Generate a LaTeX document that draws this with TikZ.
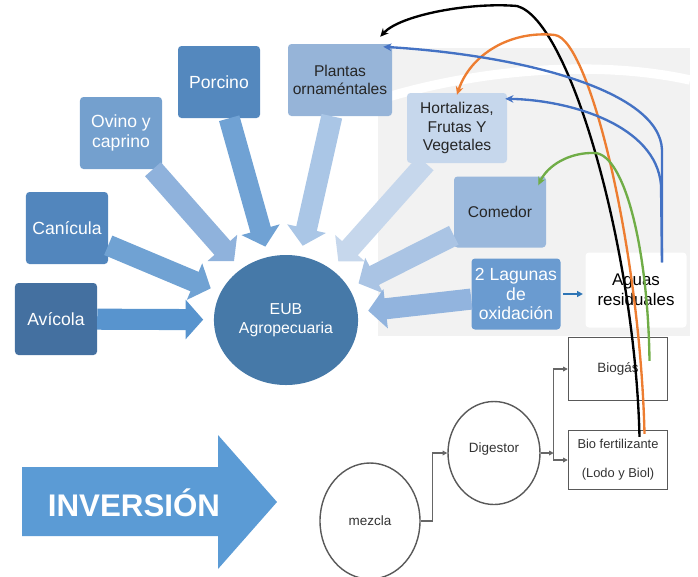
\documentclass[tikz,border=0pt]{standalone}
\usepackage{fontspec}
\setmainfont{Liberation Sans}
\usetikzlibrary{arrows.meta,shapes.geometric}

\definecolor{cporcino}{RGB}{84,136,190}
\definecolor{cplantas}{RGB}{150,180,216}
\definecolor{covino}{RGB}{116,160,206}
\definecolor{ccanicula}{RGB}{82,134,189}
\definecolor{cavicola}{RGB}{68,112,160}
\definecolor{chort}{RGB}{198,215,236}
\definecolor{ccomedor}{RGB}{154,184,220}
\definecolor{claguna}{RGB}{106,155,208}
\definecolor{ceub}{RGB}{70,121,168}
\definecolor{aavicola}{RGB}{88,148,206}
\definecolor{acanicula}{RGB}{112,162,211}
\definecolor{aovino}{RGB}{143,178,220}
\definecolor{aporcino}{RGB}{112,162,212}
\definecolor{aplantas}{RGB}{170,198,230}
\definecolor{ahort}{RGB}{198,215,236}
\definecolor{acomedor}{RGB}{170,196,228}
\definecolor{alaguna}{RGB}{146,180,222}
\definecolor{cinv}{RGB}{91,155,213}
\definecolor{corange}{RGB}{237,125,49}
\definecolor{cgreen}{RGB}{112,173,71}
\definecolor{cblue}{RGB}{68,114,196}
\definecolor{cflecha}{RGB}{46,117,182}

\begin{document}
\begin{tikzpicture}[x=0.03cm, y=-0.03cm,
  box/.style={rectangle, rounded corners=3pt, align=center, inner sep=1pt,
    minimum width=2.46cm, minimum height=2.16cm},
  wtext/.style={text=white, font=\fontsize{15}{17}\selectfont},
  dtext/.style={text=black!85, font=\fontsize{13.3}{15.5}\selectfont},
  fat/.style={line width=18pt, -{Triangle[length=15pt,width=33pt]}, shorten >=9pt},
  flow/.style={draw=black!60, line width=0.9pt, -{Triangle[length=4pt,width=4pt]}},
  back/.style={line width=2pt, -{Stealth[length=7pt,width=6.5pt]}},
  proc/.style={draw=black!65, line width=1.2pt, text=black!80,
    font=\fontsize{11.5}{17}\selectfont, align=center}]

\useasboundingbox (0,0) rectangle (698,576);

% fondo
\fill[black!5] (378,48) rectangle (690,336);
\draw[white, line width=8pt] (378,100) .. controls (480,68) and (600,60) .. (690,80);

% nodos
\node (porcino) at (219,82) [box, fill=cporcino, wtext] {Porcino};
\node (plantas) at (340,80) [box, fill=cplantas, dtext, minimum width=3.12cm] {Plantas\\ornaméntales};
\node (ovino) at (121,133) [box, fill=covino, wtext] {Ovino y\\caprino};
\node (canicula) at (67,228) [box, fill=ccanicula, wtext] {Canícula};
\node (avicola) at (56,319) [box, fill=cavicola, wtext] {Avícola};
\node (hortalizas) at (457,128) [box, fill=chort, dtext, minimum width=3cm, minimum height=2.1cm] {Hortalizas,\\Frutas Y\\Vegetales};
\node (comedor) at (500,212) [box, fill=ccomedor, dtext, minimum width=2.76cm, minimum height=2.13cm] {Comedor};
\node (lagunas) at (516,294) [box, fill=claguna, wtext, minimum width=2.67cm, minimum height=2.13cm] {2 Lagunas\\de\\oxidación};
\node (aguas) at (636,290) [box, fill=white, text=black, font=\fontsize{14.4}{17}\selectfont, minimum width=3.03cm, minimum height=2.25cm] {Aguas\\residuales};
\node (eub) at (286,320) [ellipse, fill=ceub, text=white, align=center, font=\fontsize{13.5}{16}\selectfont, minimum width=4.26cm, minimum height=3.9cm] {EUB\\Agropecuaria};

% flechas gruesas
\draw[fat, aavicola] (avicola) -- (eub);
\draw[fat, acanicula] (canicula) -- (eub);
\draw[fat, aovino] (ovino) -- (eub);
\draw[fat, aporcino] (porcino) -- (eub);
\draw[fat, aplantas] (plantas) -- (eub);
\draw[fat, ahort] (hortalizas) -- (eub);
\draw[fat, acomedor] (comedor) -- (eub);
\draw[fat, alaguna] (lagunas) -- (eub);
\draw[cflecha, line width=1.3pt, -{Triangle[length=5pt,width=5pt]}, shorten <=2pt, shorten >=2pt] (lagunas.east) -- (lagunas.east -| aguas.west);

% inversion
\fill[cinv] (22,467) -- (218,467) -- (218,435) -- (277,502) -- (218,569) -- (218,536) -- (22,536) -- cycle;
\node (inversion) at (134,503) [text=white, font=\fontsize{26.7}{30}\selectfont\bfseries] {INVERSIÓN};

% biodigestor
\node (mezcla) at (370,521) [proc, ellipse, minimum width=3cm, minimum height=3.48cm] {\raisebox{-6pt}{mezcla}};
\node (digestor) at (494,453) [proc, ellipse, minimum width=2.76cm, minimum height=3.09cm] {\raisebox{10pt}{Digestor}};
\node (biogas) at (618,369) [proc, rectangle, minimum width=2.97cm, minimum height=1.89cm] {Biogás};
\node (biofert) at (618,460) [proc, rectangle, minimum width=2.97cm, minimum height=1.77cm, font=\fontsize{11}{25}\selectfont] {Bio fertilizante\\(Lodo y Biol)};

\draw[flow] (mezcla.east) -- ++(12,0) |- (digestor.west);
\draw[flow] (digestor.east) -- ++(13,0) coordinate (split);
\draw[flow] (split) |- (biogas.west);
\draw[flow] (split) |- (biofert.west);

% retornos
\draw[back, black] ([shift={(21.5,7)}]biofert.north) .. controls (635,250) and (570,20) .. (517,6)
  .. controls (470,2) and (400,15) .. ([shift={(-12,-7)}]plantas.north east);
\draw[back, corange] ([shift={(26.5,4)}]biofert.north) .. controls (640,250) and (590,40) .. (555,35)
  .. controls (510,30) and (470,55) .. ([shift={(0,2)}]hortalizas.north);
\draw[back, cgreen] ([shift={(31.5,24)}]biogas.north) .. controls (648,250) and (625,155) .. (595,153)
  .. controls (570,152) and (548,165) .. ([shift={(-8,9)}]comedor.north east);
\draw[back, cblue] ([shift={(26,10)}]aguas.north) -- (662,150) .. controls (660,90) and (520,55)
  .. ([shift={(-9,3)}]plantas.north east);
\draw[back, cblue] ([shift={(26,10)}]aguas.north) -- (661,185) .. controls (656,125) and (570,100)
  .. ([shift={(-2,6)}]hortalizas.north east);
\end{tikzpicture}
\end{document}
